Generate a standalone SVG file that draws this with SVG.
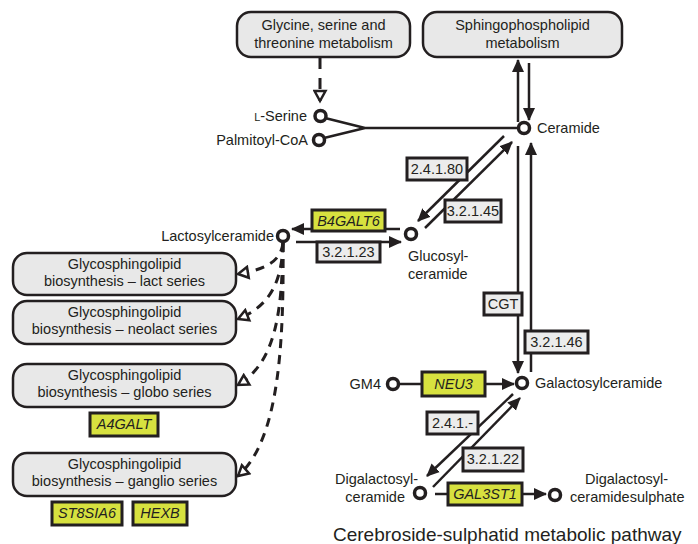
<svg xmlns="http://www.w3.org/2000/svg" width="698" height="544" viewBox="0 0 698 544">
<style>
text{font-family:"Liberation Sans",Arial,sans-serif;font-size:14.5px;fill:#231f20}
.c{text-anchor:middle}
.e{text-anchor:end}
.g{font-style:italic}
.pw{fill:#e8e8e8;stroke:#231f20;stroke-width:2.5}
.lb{fill:#ececec;stroke:#231f20;stroke-width:3}
.gn{fill:#d7e13f;stroke:#231f20;stroke-width:3}
.nd{fill:#fff;stroke:#231f20;stroke-width:3.5}
.ln{fill:none;stroke:#231f20;stroke-width:2.5}
.ar{marker-end:url(#ah)}
.ds{fill:none;stroke:#231f20;stroke-width:3;stroke-dasharray:9,7;marker-end:url(#oh)}
</style>
<defs>
<marker id="ah" viewBox="0 0 13 13" markerWidth="13" markerHeight="13" refX="12" refY="6.5" orient="auto" markerUnits="userSpaceOnUse">
<path d="M0,0.5 L13,6.5 L0,12.5 z" fill="#231f20"/>
</marker>
<marker id="oh" viewBox="0 0 15 15" markerWidth="15" markerHeight="15" refX="12" refY="7.5" orient="auto" markerUnits="userSpaceOnUse">
<path d="M2,2 L12,7.5 L2,13 z" fill="#fff" stroke="#231f20" stroke-width="2.5"/>
</marker>
</defs>
<rect width="698" height="544" fill="#fff"/>

<g id="connectors">
<path class="ln" style="stroke-width:3;stroke-dasharray:11,9;marker-end:url(#oh)" d="M320,58 V101"/>
<path class="ln" d="M325,118 L365,128 L324,138 M365,128 H518"/>
<path class="ln ar" d="M518,122 V60"/>
<path class="ln ar" d="M529,63 V120"/>
<path class="ln ar" d="M504,136 L418,221"/>
<path class="ln ar" d="M425,228 L512,142"/>
<path class="ln ar" d="M518,146 V373"/>
<path class="ln ar" d="M531,372 V143"/>
<path class="ln ar" d="M400,229 H292"/>
<path class="ln ar" d="M296,242 H401"/>
<path class="ln" d="M399,384 H422"/>
<path class="ln ar" d="M485,384 H514"/>
<path class="ln ar" d="M513,394 L427,476"/>
<path class="ln ar" d="M433,487 L520,398"/>
<path class="ln" d="M435,494 H448"/>
<path class="ln ar" d="M522,494 H546"/>
<path class="ds" d="M283,243 C281,260 268,269 238,274"/>
<path class="ds" d="M283,243 C282,282 270,306 238,319"/>
<path class="ds" d="M283,243 C282,312 276,362 238,385"/>
<path class="ds" d="M283,243 C284,345 279,440 238,476"/>
</g>

<g id="glycine"><rect class="pw" x="237" y="12" width="173" height="45" rx="14"/><text class="c" x="323.5" y="30">Glycine, serine and</text><text class="c" x="323.5" y="48">threonine metabolism</text></g>
<g id="sphingo"><rect class="pw" x="423" y="12" width="199" height="45" rx="14"/><text class="c" x="522.5" y="30">Sphingophospholipid</text><text class="c" x="522.5" y="48">metabolism</text></g>

<g id="lact"><rect class="pw" x="13" y="253" width="223" height="42" rx="14"/><text class="c" x="124.5" y="269">Glycosphingolipid</text><text class="c" x="124.5" y="286">biosynthesis – lact series</text></g>
<g id="neolact"><rect class="pw" x="13" y="301" width="223" height="43" rx="14"/><text class="c" x="124.5" y="317">Glycosphingolipid</text><text class="c" x="124.5" y="334">biosynthesis – neolact series</text></g>
<g id="globo"><rect class="pw" x="13" y="364" width="223" height="43" rx="14"/><text class="c" x="124.5" y="380">Glycosphingolipid</text><text class="c" x="124.5" y="397">biosynthesis – globo series</text></g>
<g id="ganglio"><rect class="pw" x="13" y="453" width="223" height="43" rx="14"/><text class="c" x="124.5" y="469">Glycosphingolipid</text><text class="c" x="124.5" y="486">biosynthesis – ganglio series</text></g>

<g id="a4galt"><rect class="gn" x="90" y="413" width="68" height="23"/><text class="c g" x="124" y="429">A4GALT</text></g>
<g id="st8sia6"><rect class="gn" x="52" y="502" width="70" height="23"/><text class="c g" x="87" y="518">ST8SIA6</text></g>
<g id="hexb"><rect class="gn" x="133" y="502" width="54" height="23"/><text class="c g" x="160" y="518">HEXB</text></g>

<g id="lserine"><circle class="nd" cx="320.5" cy="116" r="5.5"/><text class="e" x="307" y="121"><tspan font-size="11">L</tspan>-Serine</text></g>
<g id="palmitoyl"><circle class="nd" cx="319" cy="140" r="5.5"/><text class="e" x="308" y="145">Palmitoyl-CoA</text></g>
<g id="ceramide"><circle class="nd" cx="524" cy="128" r="5.5"/><text x="537" y="133">Ceramide</text></g>
<g id="lactosylceramide"><circle class="nd" cx="283" cy="236" r="5.5"/><text class="e" x="274" y="241">Lactosylceramide</text></g>
<g id="glucosylceramide"><circle class="nd" cx="411" cy="234" r="5.5"/><text x="408" y="261">Glucosyl-</text><text x="408" y="279">ceramide</text></g>
<g id="galactosylceramide"><circle class="nd" cx="522" cy="383" r="5.5"/><text x="535" y="388">Galactosylceramide</text></g>
<g id="gm4"><circle class="nd" cx="393" cy="384" r="5.5"/><text class="e" x="381" y="389">GM4</text></g>
<g id="digalactosylceramide"><circle class="nd" cx="420" cy="493" r="5.5"/><text class="e" x="418" y="484">Digalactosyl-</text><text class="e" x="405" y="502">ceramide</text></g>
<g id="digalactosylceramidesulphate"><circle class="nd" cx="555" cy="495" r="5.5"/><text x="585" y="484">Digalactosyl-</text><text x="570" y="502">ceramidesulphate</text></g>

<g id="e2.4.1.80"><rect class="lb" x="407" y="158" width="60" height="22"/><text class="c" x="437" y="174">2.4.1.80</text></g>
<g id="e3.2.1.45"><rect class="lb" x="445" y="200" width="56" height="22"/><text class="c" x="473" y="216">3.2.1.45</text></g>
<g id="b4galt6"><rect class="gn" x="312" y="210" width="73" height="21"/><text class="c g" x="348.5" y="226">B4GALT6</text></g>
<g id="e3.2.1.23"><rect class="lb" x="317" y="242" width="63" height="20"/><text class="c" x="348.5" y="257">3.2.1.23</text></g>
<g id="cgt"><rect class="lb" x="484" y="293" width="38" height="22"/><text class="c" x="503" y="309">CGT</text></g>
<g id="e3.2.1.46"><rect class="lb" x="525" y="331" width="63" height="22"/><text class="c" x="556.5" y="347">3.2.1.46</text></g>
<g id="neu3"><rect class="gn" x="422" y="372" width="63" height="24"/><text class="c g" x="453.5" y="389">NEU3</text></g>
<g id="e2.4.1.-"><rect class="lb" x="427" y="412" width="51" height="22"/><text class="c" x="452.5" y="428">2.4.1.-</text></g>
<g id="e3.2.1.22"><rect class="lb" x="463" y="448" width="60" height="23"/><text class="c" x="493" y="464">3.2.1.22</text></g>
<g id="gal3st1"><rect class="gn" x="448" y="483" width="74" height="22"/><text class="c g" x="485" y="499">GAL3ST1</text></g>

<text x="333" y="541" style="font-size:19px">Cerebroside-sulphatid metabolic pathway</text>
</svg>
